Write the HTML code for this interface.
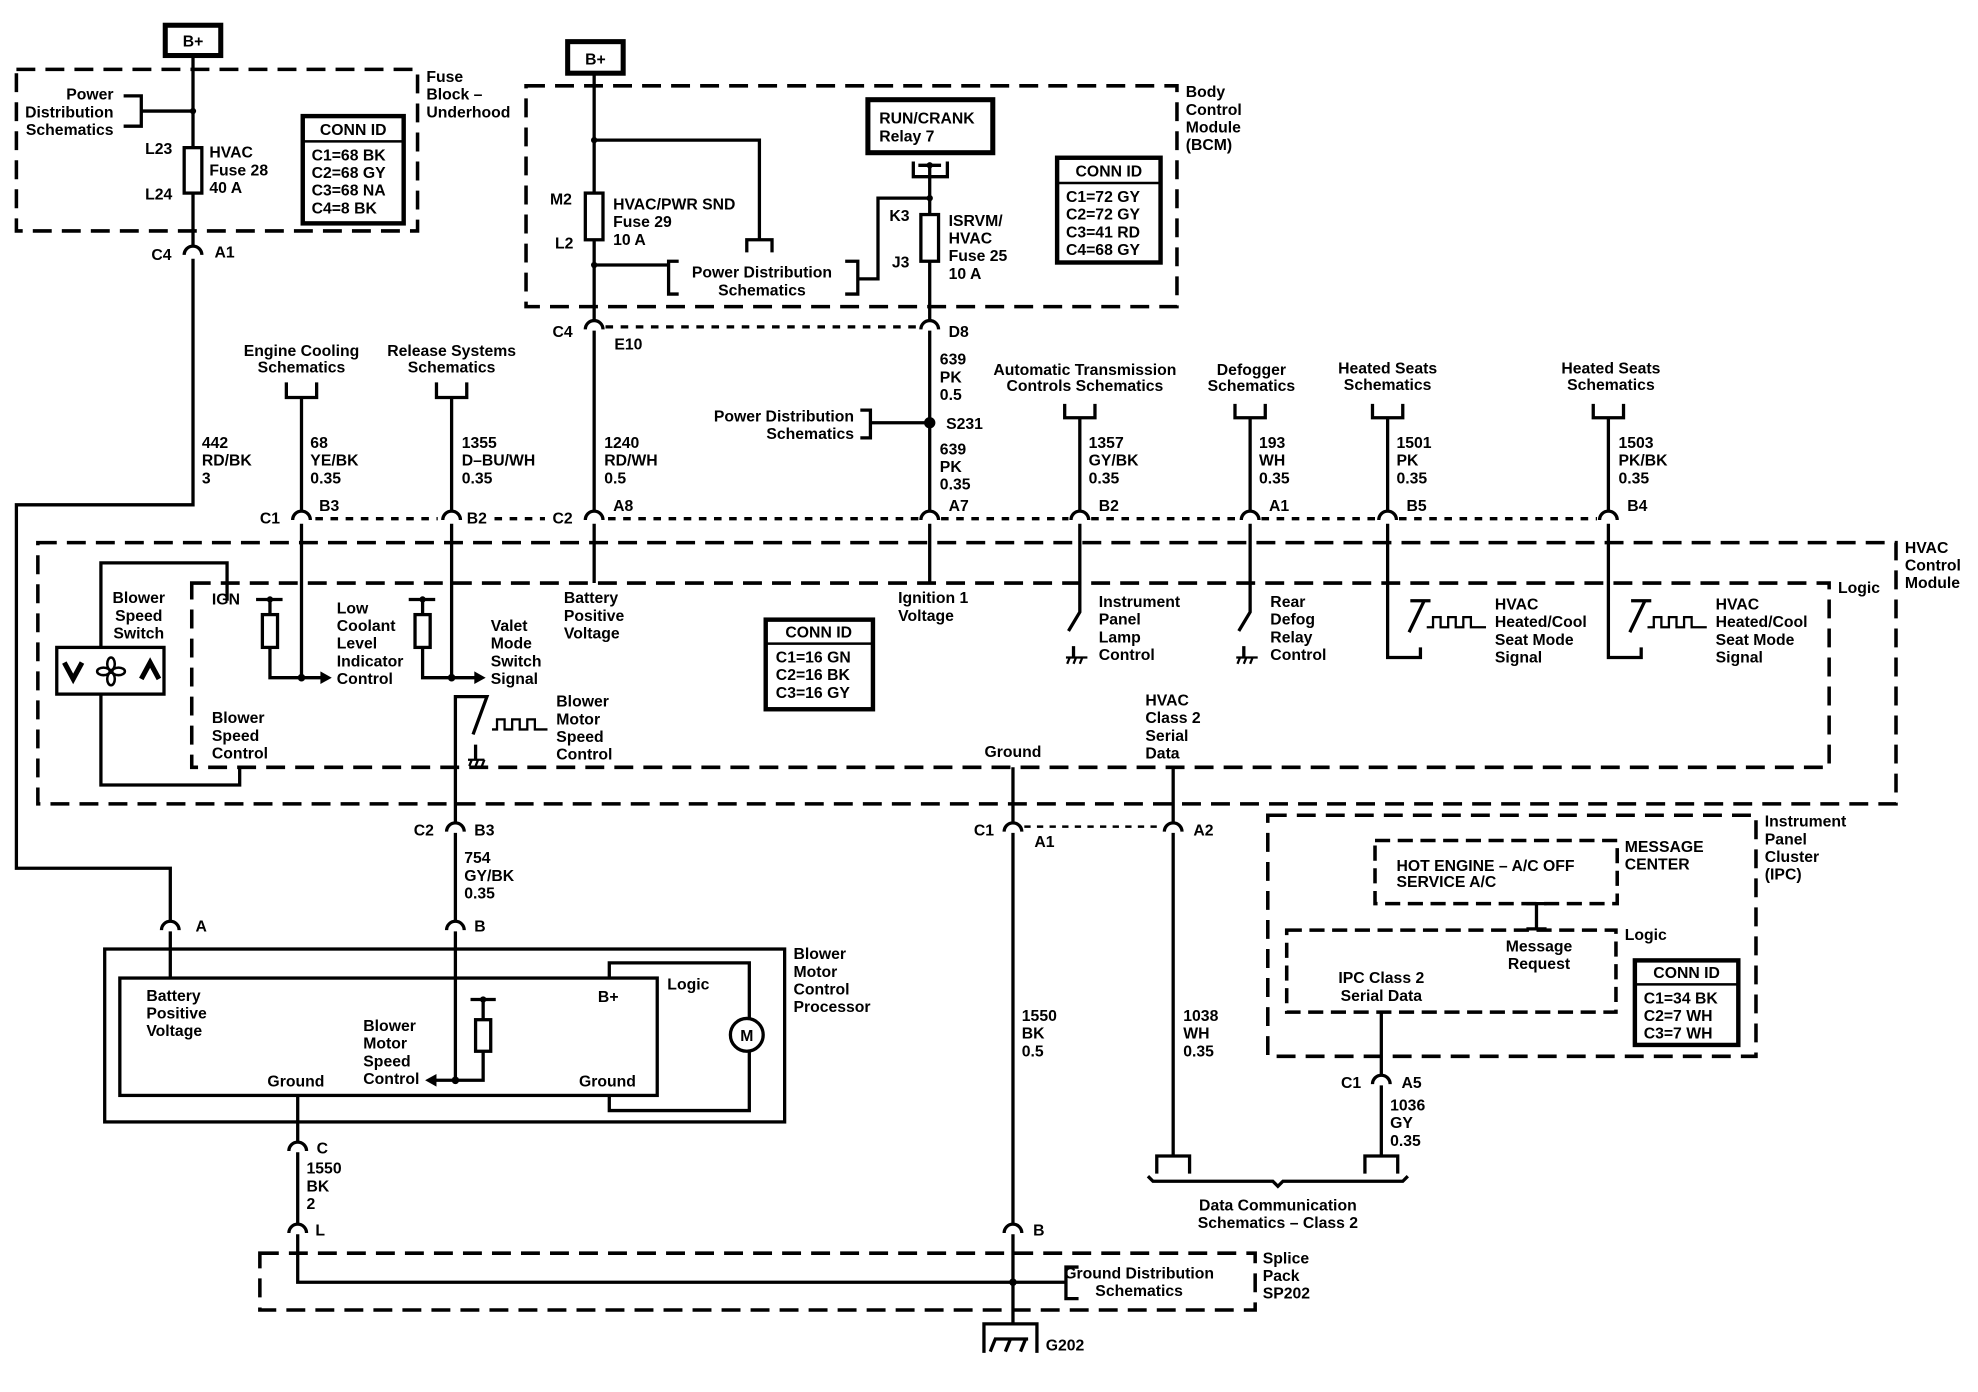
<!DOCTYPE html>
<html><head><meta charset="utf-8"><style>
html,body{margin:0;padding:0;background:#fff;}
svg{display:block;}
text{font-family:"Liberation Sans",Arial,sans-serif;font-weight:bold;font-size:12.5px;fill:#000;}
.w{stroke:#000;stroke-width:2.6;fill:none;}
.t{stroke:#000;stroke-width:1.8;fill:none;}
.d{stroke:#000;stroke-width:2.8;fill:none;stroke-dasharray:15 8;}
.dot{stroke:#000;stroke-width:2.6;fill:none;stroke-dasharray:6 6;}
.m text{text-anchor:middle;}
</style></head><body>
<svg width="1978" height="1392" viewBox="0 0 1568 1103" preserveAspectRatio="none" xmlns="http://www.w3.org/2000/svg">
<defs>
<path id="cn" d="M-7,6 A7,7 0 0 1 7,6" stroke="#000" stroke-width="2.6" fill="none"/>
</defs>

<!-- ===== Fuse block underhood ===== -->
<rect x="131" y="20" width="44" height="24" fill="#fff" stroke="#000" stroke-width="4"/>
<text x="153" y="37" text-anchor="middle">B+</text>
<rect x="13" y="55" width="318" height="128" class="d"/>
<text x="338" y="65">Fuse</text><text x="338" y="79">Block –</text><text x="338" y="93">Underhood</text>
<text x="90" y="79" text-anchor="end">Power</text>
<text x="90" y="93" text-anchor="end">Distribution</text>
<text x="90" y="107" text-anchor="end">Schematics</text>
<path class="w" d="M98,76 H112 V100 H98 M112,88 H153"/>
<path class="w" d="M153,44 V117 M153,153 V196"/>
<circle cx="153" cy="88" r="2.5"/>
<rect x="146" y="117" width="14" height="36" class="w" fill="#fff"/>
<text x="115" y="122">L23</text><text x="115" y="158">L24</text>
<text x="166" y="125">HVAC</text><text x="166" y="139">Fuse 28</text><text x="166" y="153">40 A</text>
<rect x="240" y="92" width="80" height="85" fill="none" stroke="#000" stroke-width="3.5"/>
<line x1="240" y1="112" x2="320" y2="112" stroke="#000" stroke-width="2"/>
<text x="280" y="107" text-anchor="middle">CONN ID</text>
<text x="247" y="127">C1=68 BK</text><text x="247" y="141">C2=68 GY</text><text x="247" y="155">C3=68 NA</text><text x="247" y="169">C4=8 BK</text>
<use href="#cn" x="153" y="196"/>
<text x="120" y="206">C4</text><text x="170" y="204">A1</text>
<path class="w" d="M153,205 V400 H13 V688 H135 V731"/>
<text x="160" y="355">442</text><text x="160" y="369">RD/BK</text><text x="160" y="383">3</text>

<!-- ===== BCM ===== -->
<rect x="450" y="33" width="44" height="25" fill="#fff" stroke="#000" stroke-width="4"/>
<text x="472" y="51" text-anchor="middle">B+</text>
<rect x="417" y="68" width="516" height="175" class="d"/>
<text x="940" y="77">Body</text><text x="940" y="91">Control</text><text x="940" y="105">Module</text><text x="940" y="119">(BCM)</text>
<path class="w" d="M471,58 V153 M471,190 V255"/>
<rect x="464" y="153" width="14" height="37" class="w" fill="#fff"/>
<circle cx="471" cy="111" r="2.5"/><circle cx="471" cy="210" r="2.5"/>
<path class="w" d="M471,111 H602 V190 M592,200 V190 H612 V200"/>
<text x="436" y="162">M2</text><text x="440" y="197">L2</text>
<text x="486" y="166">HVAC/PWR SND</text><text x="486" y="180">Fuse 29</text><text x="486" y="194">10 A</text>
<path class="w" d="M471,210 H530 M538,207 H530 V233 H538 M670,207 H680 V233 H670 M680,221 H696 V157 H737"/>
<text x="604" y="220" text-anchor="middle">Power Distribution</text>
<text x="604" y="234" text-anchor="middle">Schematics</text>
<rect x="688" y="79" width="99" height="42" fill="none" stroke="#000" stroke-width="4"/>
<text x="697" y="98">RUN/CRANK</text><text x="697" y="112">Relay 7</text>
<path class="w" d="M724,128 V140 H751 V128 M728,131 H746 M737,131 V170 M737,207 V255"/>
<circle cx="737" cy="131" r="2.5"/><circle cx="737" cy="157" r="2.5"/>
<rect x="730" y="170" width="14" height="37" class="w" fill="#fff"/>
<text x="705" y="175">K3</text><text x="707" y="212">J3</text>
<text x="752" y="179">ISRVM/</text><text x="752" y="193">HVAC</text><text x="752" y="207">Fuse 25</text><text x="752" y="221">10 A</text>
<rect x="838" y="125" width="82" height="83" fill="none" stroke="#000" stroke-width="3.5"/>
<line x1="838" y1="145" x2="920" y2="145" stroke="#000" stroke-width="2"/>
<text x="879" y="140" text-anchor="middle">CONN ID</text>
<text x="845" y="160">C1=72 GY</text><text x="845" y="174">C2=72 GY</text><text x="845" y="188">C3=41 RD</text><text x="845" y="202">C4=68 GY</text>

<use href="#cn" x="471" y="255"/><use href="#cn" x="737" y="255"/>
<line x1="480" y1="259" x2="728" y2="259" class="dot"/>
<text x="438" y="267">C4</text><text x="487" y="277">E10</text><text x="752" y="267">D8</text>
<path class="w" d="M471,262 V406 M737,262 V406"/>
<text x="479" y="355">1240</text><text x="479" y="369">RD/WH</text><text x="479" y="383">0.5</text>
<text x="745" y="289">639</text><text x="745" y="303">PK</text><text x="745" y="317">0.5</text>
<text x="677" y="334" text-anchor="end">Power Distribution</text>
<text x="677" y="348" text-anchor="end">Schematics</text>
<path class="w" d="M682,325 H690 V347 H682 M690,335 H737"/>
<circle cx="737" cy="335" r="4.5"/>
<text x="750" y="340">S231</text>
<text x="745" y="360">639</text><text x="745" y="374">PK</text><text x="745" y="388">0.35</text>

<!-- top schematics -->
<g class="m">
<text x="239" y="282">Engine Cooling</text><text x="239" y="295">Schematics</text>
<text x="358" y="282">Release Systems</text><text x="358" y="295">Schematics</text>
<text x="860" y="297">Automatic Transmission</text><text x="860" y="310">Controls Schematics</text>
<text x="992" y="297">Defogger</text><text x="992" y="310">Schematics</text>
<text x="1100" y="296">Heated Seats</text><text x="1100" y="309">Schematics</text>
<text x="1277" y="296">Heated Seats</text><text x="1277" y="309">Schematics</text>
</g>
<path class="w" d="M227,303 V315 H251 V303 M239,315 V406 M346,303 V315 H370 V303 M358,315 V406 M844,320 V331 H868 V320 M856,331 V406 M979,320 V331 H1003 V320 M991,331 V406 M1088,320 V331 H1112 V320 M1100,331 V406 M1263,320 V331 H1287 V320 M1275,331 V406"/>
<text x="246" y="355">68</text><text x="246" y="369">YE/BK</text><text x="246" y="383">0.35</text>
<text x="366" y="355">1355</text><text x="366" y="369">D–BU/WH</text><text x="366" y="383">0.35</text>
<text x="863" y="355">1357</text><text x="863" y="369">GY/BK</text><text x="863" y="383">0.35</text>
<text x="998" y="355">193</text><text x="998" y="369">WH</text><text x="998" y="383">0.35</text>
<text x="1107" y="355">1501</text><text x="1107" y="369">PK</text><text x="1107" y="383">0.35</text>
<text x="1283" y="355">1503</text><text x="1283" y="369">PK/BK</text><text x="1283" y="383">0.35</text>

<!-- connector row 410 -->
<use href="#cn" x="239" y="406"/><use href="#cn" x="358" y="406"/><use href="#cn" x="471" y="406"/><use href="#cn" x="737" y="406"/><use href="#cn" x="856" y="406"/><use href="#cn" x="991" y="406"/><use href="#cn" x="1100" y="406"/><use href="#cn" x="1275" y="406"/>
<path class="dot" d="M250,411 H347 M392,411 H432 M482,411 H728 M746,411 H847 M865,411 H982 M1000,411 H1091 M1109,411 H1266"/>
<text x="206" y="415">C1</text><text x="253" y="405">B3</text><text x="370" y="415">B2</text>
<text x="438" y="415">C2</text><text x="486" y="405">A8</text><text x="752" y="405">A7</text>
<text x="871" y="405">B2</text><text x="1006" y="405">A1</text><text x="1115" y="405">B5</text><text x="1290" y="405">B4</text>

<!-- ===== HVAC control module ===== -->
<rect x="30" y="430" width="1473" height="207" class="d"/>
<rect x="152" y="462" width="1298" height="146" class="d"/>
<text x="1510" y="438">HVAC</text><text x="1510" y="452">Control</text><text x="1510" y="466">Module</text>
<text x="1457" y="470">Logic</text>
<text x="110" y="478" text-anchor="middle">Blower</text><text x="110" y="492" text-anchor="middle">Speed</text><text x="110" y="506" text-anchor="middle">Switch</text>
<rect x="45" y="513" width="85" height="37" class="w"/>
<path class="w" d="M80,513 V446 H180 V476 M80,550 V622 H190 V608"/>
<path d="M51,525 L58,538 L65,525" stroke="#000" stroke-width="4" fill="none"/>
<path d="M112,538 L119,525 L126,538" stroke="#000" stroke-width="4" fill="none"/>
<g stroke="#000" stroke-width="2" fill="none"><ellipse cx="88" cy="526" rx="3" ry="5"/><ellipse cx="88" cy="538" rx="3" ry="5"/><ellipse cx="82" cy="532" rx="5" ry="3"/><ellipse cx="94" cy="532" rx="5" ry="3"/></g>
<text x="168" y="479">IGN</text>
<path class="w" d="M203,475 H224 M214,475 V487 M214,513 V537 H255 M239,415 V537 M324,475 H345 M335,475 V487 M335,513 V537 H377 M358,415 V537"/>
<rect x="208" y="487" width="12" height="26" class="w" fill="#fff"/>
<rect x="329" y="487" width="12" height="26" class="w" fill="#fff"/>
<circle cx="214" cy="475" r="2.5"/><circle cx="335" cy="475" r="2.5"/><circle cx="239" cy="537" r="3"/><circle cx="358" cy="537" r="3"/>
<path d="M254,532 L263,537 L254,542 Z"/><path d="M376,532 L385,537 L376,542 Z"/>
<text x="267" y="486">Low</text><text x="267" y="500">Coolant</text><text x="267" y="514">Level</text><text x="267" y="528">Indicator</text><text x="267" y="542">Control</text>
<text x="389" y="500">Valet</text><text x="389" y="514">Mode</text><text x="389" y="528">Switch</text><text x="389" y="542">Signal</text>
<text x="447" y="478">Battery</text><text x="447" y="492">Positive</text><text x="447" y="506">Voltage</text>
<text x="712" y="478">Ignition 1</text><text x="712" y="492">Voltage</text>
<rect x="607" y="491" width="85" height="71" fill="none" stroke="#000" stroke-width="3.5"/>
<line x1="607" y1="510" x2="692" y2="510" stroke="#000" stroke-width="2"/>
<text x="649" y="505" text-anchor="middle">CONN ID</text>
<text x="615" y="525">C1=16 GN</text><text x="615" y="539">C2=16 BK</text><text x="615" y="553">C3=16 GY</text>
<path class="w" d="M471,415 V462 M737,415 V462"/>
<!-- switches with ground -->
<path class="w" d="M856,415 V485 L847,500 M991,415 V485 L982,500 M851,512 V521 M986,512 V521"/>
<path class="t" d="M845,521 H862 M846,526 l2,-5 M851,526 l2,-5 M856,526 l2,-5 M980,521 H997 M981,526 l2,-5 M986,526 l2,-5 M991,526 l2,-5"/>
<text x="871" y="481">Instrument</text><text x="871" y="495">Panel</text><text x="871" y="509">Lamp</text><text x="871" y="523">Control</text>
<text x="1007" y="481">Rear</text><text x="1007" y="495">Defog</text><text x="1007" y="509">Relay</text><text x="1007" y="523">Control</text>
<!-- seat mode -->
<path class="w" d="M1100,415 V521 H1126 V513 M1118,476 H1134 M1129,476 L1117,501 M1275,415 V521 H1301 V513 M1293,476 H1309 M1304,476 L1292,501"/>
<path class="t" d="M1131,497 H1136 V489 H1142 V497 H1148 V489 H1154 V497 H1160 V489 H1166 V497 H1178 M1306,497 H1311 V489 H1317 V497 H1323 V489 H1329 V497 H1335 V489 H1341 V497 H1353"/>
<text x="1185" y="483">HVAC</text><text x="1185" y="497">Heated/Cool</text><text x="1185" y="511">Seat Mode</text><text x="1185" y="525">Signal</text>
<text x="1360" y="483">HVAC</text><text x="1360" y="497">Heated/Cool</text><text x="1360" y="511">Seat Mode</text><text x="1360" y="525">Signal</text>
<!-- blower motor speed control -->
<path class="w" d="M361,653 V552 H386 L375,582 M377,590 V602"/>
<path class="t" d="M371,602 H384 M372,607 l2,-5 M377,607 l2,-5 M382,607 l2,-5 M390,578 H394 V570 H400 V578 H406 V570 H412 V578 H418 V570 H424 V578 H434"/>
<text x="441" y="560">Blower</text><text x="441" y="574">Motor</text><text x="441" y="588">Speed</text><text x="441" y="602">Control</text>
<text x="168" y="573">Blower</text><text x="168" y="587">Speed</text><text x="168" y="601">Control</text>
<text x="803" y="600" text-anchor="middle">Ground</text>
<text x="908" y="559">HVAC</text><text x="908" y="573">Class 2</text><text x="908" y="587">Serial</text><text x="908" y="601">Data</text>
<path class="w" d="M803,608 V653 M930,608 V653"/>

<!-- row 657 -->
<use href="#cn" x="361" y="653"/><use href="#cn" x="803" y="653"/><use href="#cn" x="930" y="653"/>
<line x1="812" y1="655" x2="921" y2="655" class="dot" style="stroke-dasharray:5 5;stroke-width:2"/>
<text x="328" y="662">C2</text><text x="376" y="662">B3</text>
<text x="772" y="662">C1</text><text x="820" y="671">A1</text><text x="946" y="662">A2</text>
<path class="w" d="M361,660 V731 M803,660 V971 M930,660 V916"/>
<text x="368" y="684">754</text><text x="368" y="698">GY/BK</text><text x="368" y="712">0.35</text>
<text x="810" y="809">1550</text><text x="810" y="823">BK</text><text x="810" y="837">0.5</text>
<text x="938" y="809">1038</text><text x="938" y="823">WH</text><text x="938" y="837">0.35</text>

<!-- ===== IPC ===== -->
<rect x="1005" y="646" width="387" height="191" class="d"/>
<text x="1399" y="655">Instrument</text><text x="1399" y="669">Panel</text><text x="1399" y="683">Cluster</text><text x="1399" y="697">(IPC)</text>
<rect x="1090" y="666" width="192" height="50" class="d" style="stroke-dasharray:12 6"/>
<text x="1107" y="690">HOT ENGINE – A/C OFF</text><text x="1107" y="703">SERVICE A/C</text>
<text x="1288" y="675">MESSAGE</text><text x="1288" y="689">CENTER</text>
<path class="w" d="M1218,716 V736 M1210,736 H1226 M1210,716 H1226"/>
<rect x="1020" y="737" width="261" height="65" class="d" style="stroke-dasharray:12 6"/>
<text x="1288" y="745">Logic</text>
<text x="1220" y="754" text-anchor="middle">Message</text><text x="1220" y="768" text-anchor="middle">Request</text>
<text x="1095" y="779" text-anchor="middle">IPC Class 2</text><text x="1095" y="793" text-anchor="middle">Serial Data</text>
<rect x="1296" y="761" width="82" height="67" fill="none" stroke="#000" stroke-width="3.5"/>
<line x1="1296" y1="780" x2="1378" y2="780" stroke="#000" stroke-width="2"/>
<text x="1337" y="775" text-anchor="middle">CONN ID</text>
<text x="1303" y="795">C1=34 BK</text><text x="1303" y="809">C2=7 WH</text><text x="1303" y="823">C3=7 WH</text>
<path class="w" d="M1095,802 V853 M1095,860 V916"/>
<use href="#cn" x="1095" y="853"/>
<text x="1063" y="862">C1</text><text x="1111" y="862">A5</text>
<text x="1102" y="880">1036</text><text x="1102" y="894">GY</text><text x="1102" y="908">0.35</text>
<path class="w" d="M917,930 V916 H943 V930 M1082,930 V916 H1108 V930"/>
<path class="w" d="M910,932 L914,936 H1009 L1013,940 L1017,936 H1112 L1116,932"/>
<text x="1013" y="959" text-anchor="middle">Data Communication</text>
<text x="1013" y="973" text-anchor="middle">Schematics – Class 2</text>

<!-- ===== Blower motor control processor ===== -->
<use href="#cn" x="135" y="731"/><use href="#cn" x="361" y="731"/>
<text x="155" y="738">A</text><text x="376" y="738">B</text>
<path class="w" d="M135,738 V775 M361,738 V856"/>
<rect x="83" y="752" width="539" height="137" class="w"/>
<rect x="95" y="775" width="426" height="93" class="w"/>
<path class="w" d="M483,775 V763 H594 V807 M594,833 V880 H483 V868"/>
<circle cx="592" cy="820" r="13" class="w"/>
<text x="592" y="825" text-anchor="middle">M</text>
<text x="116" y="793">Battery</text><text x="116" y="807">Positive</text><text x="116" y="821">Voltage</text>
<text x="474" y="794">B+</text><text x="529" y="784">Logic</text>
<text x="629" y="760">Blower</text><text x="629" y="774">Motor</text><text x="629" y="788">Control</text><text x="629" y="802">Processor</text>
<text x="288" y="817">Blower</text><text x="288" y="831">Motor</text><text x="288" y="845">Speed</text><text x="288" y="859">Control</text>
<text x="212" y="861">Ground</text><text x="459" y="861">Ground</text>
<path class="w" d="M373,792 H393 M383,792 V808 M383,833 V856 H345"/>
<rect x="377" y="808" width="12" height="25" class="w" fill="#fff"/>
<circle cx="383" cy="792" r="2.5"/><circle cx="361" cy="856" r="3"/>
<path d="M346,851 L337,856 L346,861 Z"/>
<path class="w" d="M236,868 V906"/>
<use href="#cn" x="236" y="906"/><use href="#cn" x="236" y="971"/><use href="#cn" x="803" y="971"/>
<text x="251" y="914">C</text><text x="250" y="979">L</text><text x="819" y="979">B</text>
<path class="w" d="M236,913 V971 M236,978 V1016 H845 M803,978 V1048"/>
<text x="243" y="930">1550</text><text x="243" y="944">BK</text><text x="243" y="958">2</text>
<circle cx="803" cy="1016" r="3"/>

<!-- splice pack -->
<rect x="206" y="993" width="789" height="45" class="d"/>
<path class="w" d="M855,1004 H845 V1029 H855"/>
<text x="903" y="1013" text-anchor="middle">Ground Distribution</text>
<text x="903" y="1027" text-anchor="middle">Schematics</text>
<text x="1001" y="1001">Splice</text><text x="1001" y="1015">Pack</text><text x="1001" y="1029">SP202</text>
<path class="w" d="M780,1072 V1049 H822 V1072"/>
<path d="M785,1071 l4,-10 M797,1071 l4,-10 M809,1071 l4,-10 M788,1061 H815" stroke="#000" stroke-width="2.6" fill="none"/>
<text x="829" y="1070">G202</text>
</svg>
</body></html>
